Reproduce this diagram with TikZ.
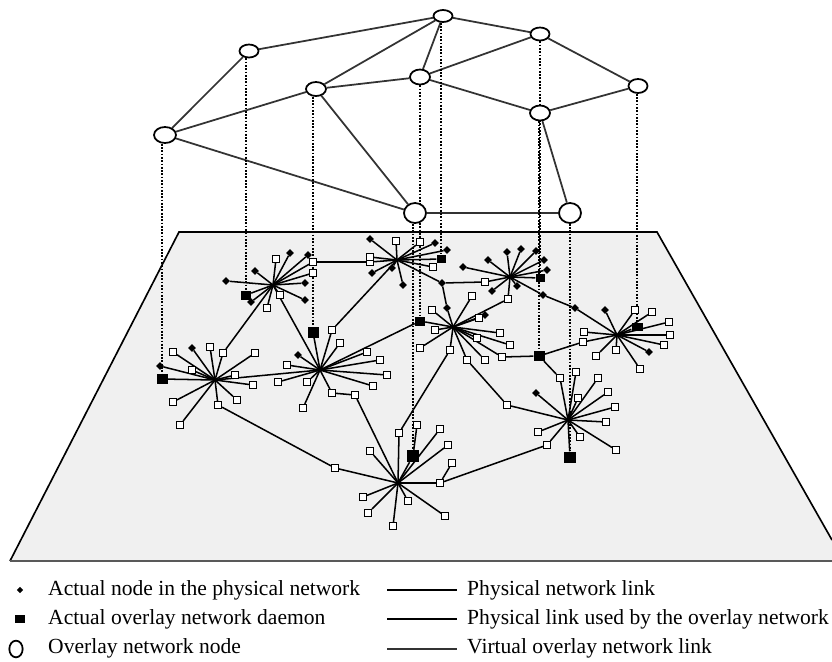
\documentclass[tikz,border=0pt]{standalone}
\usepackage{fontspec}
\setmainfont{Liberation Serif}
\usetikzlibrary{calc,shapes.geometric}
\pgfdeclarelayer{back}
\pgfdeclarelayer{mid}
\pgfsetlayers{back,mid,main}
\newcommand\mkcluster[2]{%
  \foreach \dx/\dy/\tp [count=\i] in {#2} {%
    \node[\tp] (#1l\i) at ($(#1)+(\dx,\dy)$) {};
    \begin{pgfonlayer}{mid}\draw[spoke] (#1) -- (#1l\i);\end{pgfonlayer}
  }}
\begin{document}
\begin{tikzpicture}[x=0.03cm,y=-0.03cm,
  spoke/.style={line width=1.3pt,black},
  plink/.style={line width=1.3pt,black},
  olink/.style={line width=1.5pt,black!80},
  dotline/.style={line width=1.1pt,black,dash pattern=on 1.5pt off 1.3pt},
  leafsq/.style={draw=black,fill=white,line width=0.9pt,rectangle,minimum size=0.21cm,inner sep=0pt},
  leafdm/.style={fill=black,diamond,minimum size=0.24cm,inner sep=0pt},
  daemon/.style={fill=black,rectangle,minimum width=0.33cm,minimum height=0.3cm,inner sep=0pt},
  onode/.style={ellipse,draw=black,fill=white,line width=1.5pt,inner sep=0pt},
  legtext/.style={anchor=base west,inner sep=0pt,font=\fontsize{18.4pt}{22pt}\selectfont}
]
\useasboundingbox (0,0) rectangle (832,661);

% ---------- plane ----------
\begin{pgfonlayer}{back}
  \fill[white] (0,0) rectangle (832,661);
  \coordinate (p1) at (179,232);
  \coordinate (p2) at (657,232);
  \coordinate (p3) at (832,540);
  \coordinate (p4) at (832,561);
  \coordinate (p5) at (10,561);
  \fill[black!6] (p1) -- (p2) -- (p3) -- (p4) -- (p5) -- cycle;
  \draw[line width=1.4pt,black] (p5) -- (p1) -- (p2) -- (p3);
  \draw[line width=2.4pt,black!65] (p5) -- (p4);
\end{pgfonlayer}

% ---------- overlay nodes ----------
\node[onode,minimum width=0.57cm,minimum height=0.36cm] (A) at (443,16) {};
\node[onode,minimum width=0.57cm,minimum height=0.39cm] (B) at (540,34) {};
\node[onode,minimum width=0.57cm,minimum height=0.39cm] (C) at (249,51) {};
\node[onode,minimum width=0.6cm,minimum height=0.45cm] (D) at (420,77) {};
\node[onode,minimum width=0.6cm,minimum height=0.42cm] (E) at (316,89) {};
\node[onode,minimum width=0.57cm,minimum height=0.42cm] (F) at (638,86) {};
\node[onode,minimum width=0.6cm,minimum height=0.45cm] (G) at (540,113) {};
\node[onode,minimum width=0.66cm,minimum height=0.48cm] (H) at (165,135) {};
\node[onode,minimum width=0.66cm,minimum height=0.6cm] (I) at (415,213) {};
\node[onode,minimum width=0.66cm,minimum height=0.6cm] (J) at (570,213) {};

\begin{pgfonlayer}{mid}
  \foreach \u/\v in {A/C,A/E,A/D,A/B,B/D,B/F,C/H,H/E,H/I,E/D,E/I,D/G,G/F,G/J,I/J}
    \draw[olink] (\u) -- (\v);
\end{pgfonlayer}

% ---------- cluster centres ----------
\coordinate (k1) at (273,285);
\coordinate (k2) at (397,260);
\coordinate (k3) at (510,277);
\coordinate (k4) at (453,327);
\coordinate (k5) at (617,335);
\coordinate (k6) at (215,380);
\coordinate (k7) at (320,370);
\coordinate (k8) at (568,420);
\coordinate (k9) at (398,483);

% ---------- daemons ----------
\node[daemon] (d1) at (162,379) {};
\node[daemon,minimum width=0.3cm,minimum height=0.27cm] (d2) at (246,295) {};
\node[daemon,minimum height=0.33cm] (d3) at (313,332) {};
\node[daemon,minimum width=0.27cm,minimum height=0.22cm] (d4) at (441,259) {};
\node[daemon,minimum width=0.3cm,minimum height=0.27cm] (d5) at (420,321) {};
\node[daemon,minimum width=0.27cm,minimum height=0.24cm] (d6) at (540,278) {};
\node[daemon] (d7) at (539,356) {};
\node[daemon,minimum height=0.25cm] (d8) at (637,327) {};
\node[daemon,minimum width=0.36cm,minimum height=0.36cm] (d9) at (413,456) {};
\node[daemon,minimum width=0.36cm,minimum height=0.33cm] (d10) at (570,457) {};

% ---------- dotted projections ----------
\begin{pgfonlayer}{mid}
  \foreach \o/\d in {H/d1,C/d2,E/d3,A/d4,D/d5,B/d6,G/d7,F/d8,I/d9,J/d10}
    \draw[dotline] (\d |- \o.south) -- (\d.north);
\end{pgfonlayer}

% ---------- routers ----------
\node[leafsq] (r1) at (313,262) {};
\node[leafsq] (r2) at (370,262) {};
\node[leafsq] (r3) at (223,353) {};
\node[leafsq] (r4) at (332,330) {};
\node[leafdm] (r5) at (442,283) {};
\node[leafsq] (r6) at (485,282) {};
\node[leafdm] (r7) at (447,308) {};
\node[leafdm] (r8) at (543,295) {};
\node[leafdm] (r9) at (575,308) {};
\node[leafsq] (r10) at (502,357) {};
\node[leafsq] (r11) at (583,342) {};
\node[leafsq] (r12) at (560,378) {};
\node[leafsq] (r13) at (467,360) {};
\node[leafsq] (r14) at (507,405) {};
\node[leafsq] (r15) at (450,350) {};
\node[leafsq] (r16) at (399,433) {};
\node[leafsq] (r17) at (547,445) {};
\node[leafsq] (r18) at (440,483) {};
\node[leafsq] (r19) at (218,405) {};
\node[leafsq] (r20) at (335,468) {};
\node[leafsq] (r21) at (332,393) {};
\node[leafsq] (r22) at (355,395) {};
\node[leafsq] (r23) at (508,299) {};
\node[leafsq] (x1) at (452,463) {};
\node[leafsq] (x2) at (417,425) {};

\begin{pgfonlayer}{mid}
  \foreach \u/\v in {k1/r1,r1/r2,r2/k2,k1/r3,r3/k6,k1/k7,k2/r4,r4/k7,
      k2/r5,r5/r6,r6/k3,r5/r7,r7/k4,k3/r23,r23/k4,k3/r8,r8/r9,r9/k5,
      k7/d5,d5/k4,k4/r10,r10/d7,d7/r11,r11/k5,d7/r12,r12/k8,
      k4/r13,r13/r14,r14/k8,k4/r15,r15/r16,r16/k9,k8/r17,r17/r18,r18/k9,
      k6/r19,r19/r20,r20/k9,k7/r21,r21/r22,r22/k9,k6/k7,r18/x1,d9/x2,
      k6/d1,k1/d2,k7/d3,k2/d4,k3/d6,k5/d8,k9/d9,k8/d10}
    \draw[plink] (\u) -- (\v);
\end{pgfonlayer}

% ---------- clusters ----------
\mkcluster{k1}{-47/-4/leafdm,-18/-14/leafdm,3/-26/leafsq,17/-32/leafdm,35/-30/leafdm,40/-12/leafsq,32/-2/leafdm,32/15/leafdm,7/10/leafsq,-6/23/leafsq,-22/17/leafdm}
\mkcluster{k2}{-27/-21/leafdm,-1/-19/leafsq,23/-18/leafsq,38/-17/leafdm,50/-10/leafdm,-27/-3/leafsq,-25/13/leafdm,-5/8/leafdm,6/25/leafdm,36/7/leafsq}
\mkcluster{k3}{-47/-10/leafdm,-22/-17/leafdm,-3/-25/leafdm,11/-28/leafdm,26/-26/leafdm,34/-17/leafdm,37/-7/leafdm,7/9/leafdm,-18/14/leafdm}
\mkcluster{k4}{-21/-17/leafsq,19/-31/leafsq,32/-12/leafdm,26/-9/leafsq,-18/3/leafsq,-33/21/leafsq,47/6/leafsq,57/18/leafsq,32/33/leafsq,24/11/leafsq}
\mkcluster{k5}{-12/-25/leafdm,18/-25/leafsq,35/-23/leafsq,52/-13/leafsq,53/0/leafsq,47/10/leafsq,32/17/leafdm,23/34/leafsq,-1/15/leafsq,-21/21/leafsq,-33/-3/leafsq}
\mkcluster{k6}{-55/-14/leafdm,-42/-28/leafsq,-23/-32/leafdm,-5/-33/leafsq,40/-27/leafsq,20/-5/leafsq,38/5/leafsq,22/20/leafsq,-42/22/leafsq,-35/45/leafsq,-23/-10/leafsq}
\mkcluster{k7}{-22/-15/leafdm,-33/-5/leafsq,-42/12/leafsq,-13/12/leafsq,-17/38/leafsq,20/-27/leafsq,47/-18/leafsq,60/-10/leafsq,67/5/leafsq,53/16/leafsq}
\mkcluster{k8}{-32/-27/leafdm,8/-48/leafsq,10/-22/leafsq,30/-42/leafsq,40/-28/leafsq,47/-13/leafsq,38/2/leafsq,48/30/leafsq,12/17/leafsq,-30/12/leafsq}
\mkcluster{k9}{42/-54/leafsq,50/-38/leafsq,-28/-32/leafsq,-35/14/leafsq,-30/30/leafsq,-5/43/leafsq,10/18/leafsq,47/33/leafsq}

% ---------- legend ----------
\node[leafdm,minimum size=0.2cm] (lg1) at (20,590) {};
\node[daemon,minimum width=0.27cm,minimum height=0.24cm] (lg2) at (20,619) {};
\node[onode,minimum width=0.4cm,minimum height=0.5cm] (lg3) at (16,649) {};
\node[legtext] (lt1) at (48,595) {Actual node in the physical network};
\node[legtext] (lt2) at (48,624) {Actual overlay network daemon};
\node[legtext] (lt3) at (48,653) {Overlay network node};
\coordinate (la1) at (387,590); \coordinate (lb1) at (457,590);
\coordinate (la2) at (387,619); \coordinate (lb2) at (457,619);
\coordinate (la3) at (387,649); \coordinate (lb3) at (457,649);
\draw[plink] (la1) -- (lb1);
\draw[plink] (la2) -- (lb2);
\draw[olink] (la3) -- (lb3);
\node[legtext] (rt1) at (467,595) {Physical network link};
\node[legtext] (rt2) at (467,624) {Physical link used by the overlay network};
\node[legtext] (rt3) at (467,653) {Virtual overlay network link};
\end{tikzpicture}
\end{document}
